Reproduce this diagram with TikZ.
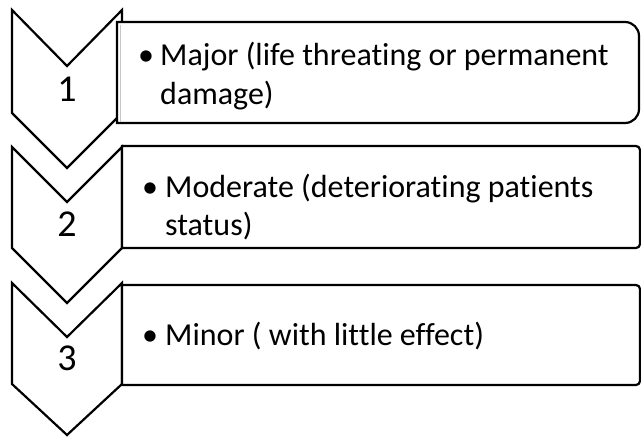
\documentclass[tikz,border=0pt]{standalone}
\usepackage{fontspec}
\setmainfont{Carlito}[Ligatures={NoCommon}]
\begin{document}
\begin{tikzpicture}[x=1pt,y=-1pt,
  shape line/.style={draw=black,line width=2.2pt,fill=white,line join=miter},
  itemtext/.style={anchor=base west,inner sep=0pt,font=\fontsize{32}{38}\selectfont},
  numtext/.style={anchor=center,inner sep=0pt,font=\fontsize{38}{44}\selectfont}]
\useasboundingbox (0,0) rectangle (641,437);
% chevrons
\draw[shape line] (12,10) -- (67,66) -- (122,10) -- (122,113) -- (67,168) -- (12,113) -- cycle;
\draw[shape line] (12,147) -- (67,202) -- (122,147) -- (122,248) -- (67,303) -- (12,248) -- cycle;
\draw[shape line] (12,283) -- (67,337) -- (122,283) -- (122,384) -- (67,435) -- (12,384) -- cycle;
% boxes
\draw[shape line] (117,22) -- (625,22) arc[start angle=-90,end angle=0,radius=14] -- (639,109) arc[start angle=0,end angle=90,radius=14] -- (117,123) -- cycle;
\draw[gray!45,line width=1.5pt] (120.5,25) -- (120.5,121.5);
\draw[shape line] (122,146) -- (636,146) arc[start angle=-90,end angle=0,radius=4] -- (640,244) arc[start angle=0,end angle=90,radius=4] -- (122,248) -- cycle;
\draw[shape line] (122,285) -- (636,285) arc[start angle=-90,end angle=0,radius=4] -- (640,381) arc[start angle=0,end angle=90,radius=4] -- (122,385) -- cycle;
% numbers
\node[numtext] (n1) at (67,89) {1};
\node[numtext] (n2) at (67,224) {2};
\node[numtext] (n3) at (67,358) {3};
% texts
\node[itemtext] (b1) at (138,65) {•};
\node[itemtext] (t1a) at (160,65) {Major (life threating or permanent};
\node[itemtext] (t1b) at (160,104) {damage)};
\node[itemtext] (b2) at (142,197) {•};
\node[itemtext] (t2a) at (165,197) {Moderate (deteriorating patients};
\node[itemtext] (t2b) at (165,235) {status)};
\node[itemtext] (b3) at (142,345) {•};
\node[itemtext] (t3a) at (165,345) {Minor ( with little effect)};
\end{tikzpicture}
\end{document}
